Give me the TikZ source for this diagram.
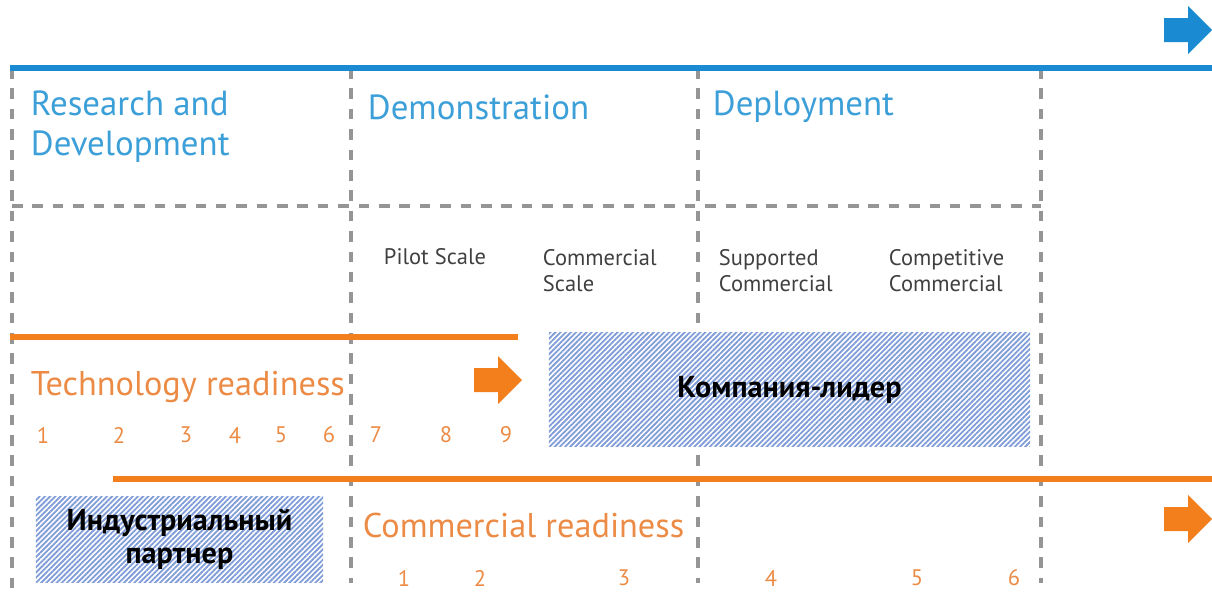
\documentclass[tikz,border=0pt]{standalone}
\usepackage{fontspec}
\setmainfont{PT Sans}
\usetikzlibrary{patterns.meta}

\definecolor{rdblue}{HTML}{1A8BD2}
\definecolor{headblue}{HTML}{3C9FD8}
\definecolor{rdorange}{HTML}{F27F1C}
\definecolor{txtorange}{HTML}{EC8B45}
\definecolor{dashgray}{HTML}{959595}
\definecolor{hatchblue}{HTML}{819DD8}

\tikzset{
	gridline/.style={dashgray, line width=2.2pt, dash pattern=on 7.5pt off 7pt},
	phase/.style={anchor=west, text=headblue, align=left, font=\fontsize{24.8}{28.5}\selectfont},
	stage/.style={anchor=west, text=black!75, align=left, font=\fontsize{16}{19}\selectfont},
	readiness/.style={anchor=west, text=txtorange, font=\fontsize{24.4}{28}\selectfont},
	lvlnum/.style={text=txtorange, font=\fontsize{16}{18}\selectfont},
	hatchbox/.style={preaction={fill=white}, pattern={Lines[angle=45,distance=2.6pt,line width=1.3pt]},
		pattern color=hatchblue, align=center, inner sep=0pt, font=\bfseries\fontsize{21.5}{23}\selectfont},
	blockarrow/.pic={\fill (-24,-12) -- (0,-12) -- (0,-24) -- (24,0) -- (0,24) -- (0,12) -- (-24,12) -- cycle;}
}

\begin{document}
\begin{tikzpicture}[x=0.025cm, y=-0.025cm]
			\useasboundingbox (0,0) rectangle (1212,593);
			% grid
			\foreach \x/\y in {12/593, 351/583, 698/583, 1041/583}
				\draw[gridline] (\x,68) -- (\x,\y);
			\draw[gridline] (12,206) -- (1041,206);
			\draw[rdblue, line width=3.6pt] (10,68) -- (1212,68);
			\pic[rdblue] at (1188,30) {blockarrow};
			% phases
			\node[phase] (rnd) at (26,127) {Research and\\Development};
			\node[phase] (demo) at (363,107) {Demonstration};
			\node[phase] (deploy) at (708,107) {Deployment};
			\node[stage] (pilot) at (379,257) {Pilot Scale};
			\node[stage] (cscale) at (538,270.5) {Commercial\\Scale};
			\node[stage] (supp) at (714,270.5) {Supported\\Commercial};
			\node[stage] (comp) at (884,270.5) {Competitive\\Commercial};
			% technology readiness
			\draw[rdorange, line width=4.2pt] (10,337) -- (518,337);
			\pic[rdorange] at (498,380) {blockarrow};
			\node[readiness] (techr) at (26,387) {Technology readiness};
			\foreach \x/\n in {43/1, 119/2, 186/3, 235/4, 281/5, 329/6, 376/7, 446/8, 506/9}
				\node[lvlnum] (trl\n) at (\x,435) {\n};
			% commercial readiness
			\draw[rdorange, line width=4.2pt] (113,479) -- (1212,479);
			\pic[rdorange] at (1188,519) {blockarrow};
			\node[readiness] (comr) at (358,525) {Commercial readiness};
			\foreach \x/\n in {404/1, 480/2, 624/3, 771/4, 917/5, 1014/6}
				\node[lvlnum] (crl\n) at (\x,578) {\n};
			% actors
			\node[hatchbox, minimum width=12.03cm, minimum height=2.83cm] (leader) at (789.5,389.5) {Компания-лидер};
			\node[hatchbox, minimum width=7.18cm, minimum height=2.13cm] (partner) at (179.5,539.5) {Индустриальный\\партнер};
		\end{tikzpicture}
\end{document}
